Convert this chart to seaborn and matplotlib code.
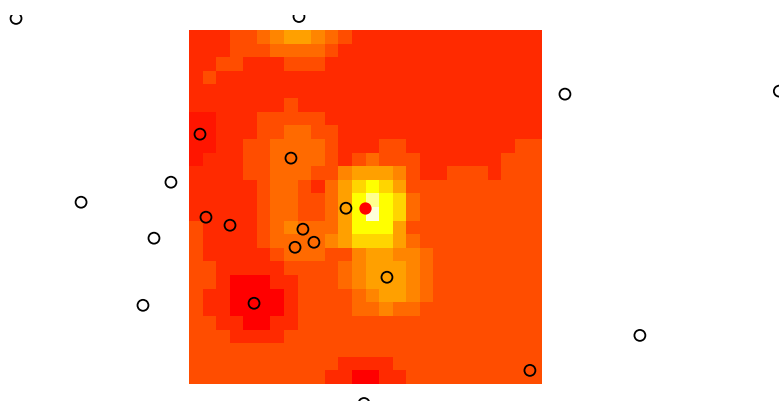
import numpy as np
import pandas as pd
import seaborn as sns
import matplotlib.pyplot as plt
from matplotlib.colors import ListedColormap
from matplotlib.transforms import Bbox, TransformedBbox

# colour steps of the raster, low to high
level_colors = ["#FF0000", "#FF1500", "#FF2A00", "#FF4D00", "#FF6A00", "#FF8500",
                "#FFA000", "#FFD500", "#FFFF00", "#FFFF90", "#FFFFD8"]

# raster levels, top row first
levels = [
    [2,2,2,3,3,4,5,6,6,5,4,3,2,2,2,2,2,2,2,2,2,2,2,2,2,2],
    [2,2,2,3,3,3,4,4,4,4,3,2,2,2,2,2,2,2,2,2,2,2,2,2,2,2],
    [2,2,3,3,2,2,2,3,3,3,2,2,2,2,2,2,2,2,2,2,2,2,2,2,2,2],
    [2,3,2,2,2,2,2,2,2,2,2,2,2,2,2,2,2,2,2,2,2,2,2,2,2,2],
    [2,2,2,2,2,2,2,2,2,2,2,2,2,2,2,2,2,2,2,2,2,2,2,2,2,2],
    [2,2,2,2,2,2,2,3,2,2,2,2,2,2,2,2,2,2,2,2,2,2,2,2,2,2],
    [1,1,2,2,2,3,3,3,3,3,2,2,2,2,2,2,2,2,2,2,2,2,2,2,2,2],
    [1,1,2,2,2,3,3,4,4,3,3,2,2,2,2,2,2,2,2,2,2,2,2,2,2,2],
    [1,1,2,2,3,3,4,4,4,4,3,2,2,2,3,3,2,2,2,2,2,2,2,2,3,3],
    [1,2,2,2,3,3,4,4,4,4,3,2,3,4,3,3,3,2,2,2,2,2,2,3,3,3],
    [2,2,2,2,3,3,4,4,4,3,3,5,6,6,6,5,3,2,2,3,3,3,2,3,3,3],
    [2,2,2,2,2,3,4,4,3,2,4,6,7,8,7,6,3,3,3,3,3,3,3,3,3,3],
    [2,2,2,2,2,3,4,4,3,3,4,6,8,9,8,7,4,3,3,3,3,3,3,3,3,3],
    [2,2,2,2,2,3,4,4,3,3,4,6,8,10,8,7,4,3,3,3,3,3,3,3,3,3],
    [3,2,2,2,2,3,4,5,4,4,4,6,8,8,8,6,3,3,3,3,3,3,3,3,3,3],
    [3,2,2,2,2,3,4,4,4,4,5,6,7,7,7,6,4,3,3,3,3,3,3,3,3,3],
    [3,2,2,2,2,2,3,4,4,4,3,3,5,6,6,5,5,4,3,3,3,3,3,3,3,3],
    [3,3,2,2,2,2,2,3,3,3,3,4,5,6,6,6,5,4,3,3,3,3,3,3,3,3],
    [3,3,2,0,0,0,2,2,3,3,3,4,5,6,6,6,5,4,3,3,3,3,3,3,3,3],
    [3,2,2,0,0,0,0,2,3,3,3,3,4,5,6,6,5,4,3,3,3,3,3,3,3,3],
    [3,2,2,0,0,0,0,2,3,3,3,3,4,4,5,4,4,3,3,3,3,3,3,3,3,3],
    [3,3,2,2,0,0,2,2,3,3,3,3,3,3,3,3,3,3,3,3,3,3,3,3,3,3],
    [3,3,3,2,2,2,2,3,3,3,3,3,3,3,3,3,3,3,3,3,3,3,3,3,3,3],
    [3,3,3,3,3,3,3,3,3,3,3,3,3,3,3,3,3,3,3,3,3,3,3,3,3,3],
    [3,3,3,3,3,3,3,3,3,3,3,2,2,2,2,3,3,3,3,3,3,3,3,3,3,3],
    [3,3,3,3,3,3,3,3,3,3,2,2,0,0,2,2,3,3,3,3,3,3,3,3,3,3],
]

# sample locations in raster cell units
site_x = [-12.74, 8.10, 27.69, 43.48, -1.33, -7.95, -2.58, -3.39, 33.21, 12.89, 25.11,
          0.81, 7.51, 11.56, 1.25, 3.02, 8.39, 9.20, 7.81, 14.58, 4.79]
site_y = [-0.85, -0.99, 4.71, 4.49, 11.18, 12.65, 15.29, 20.22, 22.43, 27.43, 25.00,
          7.65, 9.41, 13.09, 13.75, 14.34, 14.63, 15.59, 15.96, 18.16, 20.07]

target_x = [12.96]
target_y = [13.09]

sns.set_style("white")

W, H = 779, 403
fig = plt.figure(figsize=(W / 100, H / 100), dpi=100)
ax = fig.add_axes([189 / W, (H - 384) / H, 353 / W, 354 / H])

sns.heatmap(np.array(levels), ax=ax, cmap=ListedColormap(level_colors), vmin=-0.5, vmax=10.5,
            cbar=False, xticklabels=False, yticklabels=False, square=False)

sites = pd.DataFrame({"x": site_x, "y": site_y})
n_before = len(ax.collections)
sns.scatterplot(data=sites, x="x", y="y", ax=ax, s=62, marker="o",
                facecolors="none", edgecolor="black", linewidth=1.3)
sns.scatterplot(x=target_x, y=target_y, ax=ax, s=78, marker="o", color="#FF0000", linewidth=0)

ax.set_xlim(0, 26)
ax.set_ylim(26, 0)
ax.set_xlabel("")
ax.set_ylabel("")
for s in ax.spines.values():
    s.set_visible(False)

# points run past the raster but stop at the edges of the plot region
region = TransformedBbox(Bbox([[0, 2 / H], [1, (H - 14.5) / H]]), fig.transFigure)
for coll in ax.collections[n_before:]:
    coll.set_clip_path(None)
    coll.set_clip_box(region)

fig.savefig("out.png", dpi=100)
